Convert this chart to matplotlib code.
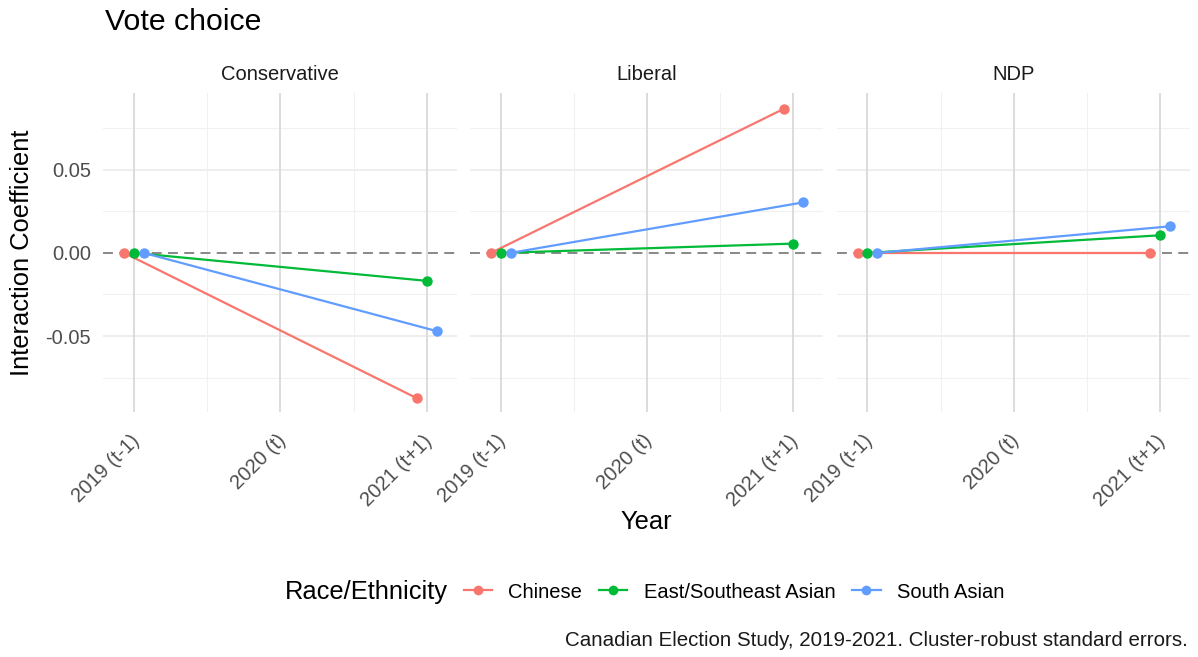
import numpy as np
import matplotlib
matplotlib.use("Agg")
import matplotlib.pyplot as plt
from matplotlib.lines import Line2D
from matplotlib.transforms import ScaledTranslation

plt.rcParams['font.family'] = ['Liberation Sans', 'DejaVu Sans']

# data
years = ["2019 (t-1)", "2020 (t)", "2021 (t+1)"]
parties = ["Conservative", "Liberal", "NDP"]
groups = ["Chinese", "East/Southeast Asian", "South Asian"]
colors = ["#F8766D", "#00BA38", "#619CFF"]

# coefficients are 0 in 2019 (reference year), values for 2021
coef_2019 = [0.0, 0.0, 0.0]
conservative_2021 = [-0.0874, -0.0168, -0.0470]
liberal_2021 = [0.0866, 0.0056, 0.0304]
ndp_2021 = [0.0, 0.0106, 0.0160]
party_values = [conservative_2021, liberal_2021, ndp_2021]

W, H = 1198, 657
fig = plt.figure(figsize=(W / 100, H / 100), dpi=100)

panel_left = [103.3, 470.0, 836.7]
panel_w = 353.4
top, bottom = 93.3, 411.7

dodge = [-0.067, 0.0, 0.067]
year_pos = [1, 3]  # 2019 and 2021 positions on the x scale

axes = []
for p, party in enumerate(parties):
    ax = fig.add_axes([panel_left[p] / W, 1 - bottom / H, panel_w / W, (bottom - top) / H])
    axes.append(ax)
    ax.set_xlim(0.79, 3.205)
    ax.set_ylim(-0.0955, 0.096)
    for s in ax.spines.values():
        s.set_visible(False)

    # grid
    for yv in [-0.075, -0.025, 0.025, 0.075]:
        ax.axhline(yv, color="#f1f1f1", lw=0.8, zorder=0)
    for yv in [-0.05, 0.05]:
        ax.axhline(yv, color="#ebebeb", lw=1.2, zorder=0)
    for xv in [1.5, 2.5]:
        ax.axvline(xv, color="#f0f0f0", lw=0.8, zorder=0)
    for xv in [1, 2, 3]:
        ax.axvline(xv, color="#dcdcdc", lw=1.4, zorder=0)

    ax.axhline(0, color="#7f7f7f", lw=1.3, ls=(0, (5.5, 3.5)), zorder=1)

    for g in range(len(groups)):
        xs = [year_pos[0] + dodge[g], year_pos[1] + dodge[g]]
        ys = [coef_2019[g], party_values[p][g]]
        ax.plot(xs, ys, color=colors[g], lw=1.6, zorder=2)
        ax.plot(xs, ys, "o", color=colors[g], ms=7.5, mec="none", zorder=3)

    ax.set_xticks([1, 2, 3])
    ax.set_xticklabels(years, rotation=45, ha="right", va="top", fontsize=14.5, color="#4d4d4d")
    ax.tick_params(axis="x", length=0, pad=14)
    for lbl in ax.get_xticklabels():
        lbl.set_transform(lbl.get_transform() + ScaledTranslation(0.09, 0, fig.dpi_scale_trans))
    ax.set_yticks([-0.05, 0.0, 0.05])
    if p == 0:
        ax.set_yticklabels(["-0.05", "0.00", "0.05"], fontsize=14.5, color="#4d4d4d")
        ax.tick_params(axis="y", length=0, pad=9)
    else:
        ax.tick_params(axis="y", length=0, labelleft=False)

    ax.text(0.5, 1 + (top - 74) / (bottom - top), party, transform=ax.transAxes,
            ha="center", va="center", fontsize=14.5, color="#1a1a1a")

fig.text(105 / W, 1 - 22 / H, "Vote choice", fontsize=21.8, ha="left", va="center")
fig.text(22 / W, 1 - 252.5 / H, "Interaction Coefficient", fontsize=18.4, rotation=90,
         ha="center", va="center")
fig.text(646.7 / W, 1 - 522 / H, "Year", fontsize=18.4, ha="center", va="center")

# legend
fig.text(285 / W, 1 - 592 / H, "Race/Ethnicity", fontsize=18.4, ha="left", va="center")
handles = [Line2D([0], [0], color=c, lw=1.6, marker="o", ms=7, mec="none") for c in colors]
fig.legend(handles, groups, loc="center left", bbox_to_anchor=(464 / W, 1 - 592 / H),
           ncol=3, frameon=False, fontsize=14.5, handlelength=1.4, handletextpad=0.8,
           columnspacing=0.85, borderpad=0, borderaxespad=0)

fig.text(1188 / W, 1 - 640 / H, "Canadian Election Study, 2019-2021. Cluster-robust standard errors.",
         fontsize=14.8, ha="right", va="center", color="#1a1a1a")

fig.savefig("out.png", dpi=100, facecolor="white")
